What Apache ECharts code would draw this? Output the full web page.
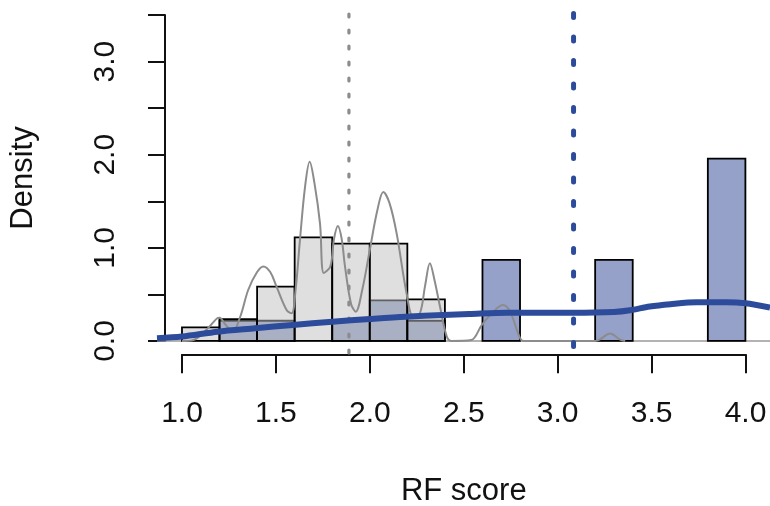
<!DOCTYPE html>
<html>
<head>
<meta charset="utf-8">
<script src="https://cdn.jsdelivr.net/npm/echarts@6/dist/echarts.min.js"></script>
<style>
html, body { margin: 0; padding: 0; background: #fff; }
#graph1 { width: 770px; height: 506px; }
</style>
</head>
<body>
<div id="graph1"></div>
<script>
// histogram bins (width 0.2) and densities
var grayLo = [1.0, 1.2, 1.4, 1.6, 1.8, 2.0, 2.2];
var grayHi = [1.2, 1.4, 1.6, 1.8, 2.0, 2.2, 2.4];
var grayDens = [0.145, 0.233, 0.583, 1.113, 1.045, 1.045, 0.447];

var blueLo = [1.2, 1.4, 1.8, 2.0, 2.2, 2.6, 3.2, 3.8];
var blueHi = [1.4, 1.6, 2.0, 2.2, 2.4, 2.8, 3.4, 4.0];
var blueDens = [0.217, 0.217, 0.217, 0.435, 0.217, 0.870, 0.870, 1.957];

// gray kernel density
var kdeX = [1.0, 1.06, 1.13, 1.185, 1.2, 1.23, 1.27, 1.31, 1.353, 1.40, 1.433, 1.47, 1.504, 1.557, 1.584, 1.605, 1.628, 1.655, 1.68, 1.705, 1.735, 1.755, 1.79, 1.81, 1.83, 1.85, 1.868, 1.90, 1.925, 1.96, 2.0, 2.04, 2.072, 2.105, 2.143, 2.196, 2.232, 2.267, 2.295, 2.32, 2.345, 2.374, 2.41, 2.436, 2.54, 2.596, 2.658, 2.71, 2.747, 2.80, 2.82, 3.2, 3.226, 3.28, 3.33, 3.36];
var kdeY = [0.0, 0.01, 0.12, 0.24, 0.25, 0.18, 0.10, 0.26, 0.55, 0.74, 0.80, 0.74, 0.58, 0.333, 0.297, 0.55, 1.08, 1.65, 1.925, 1.70, 1.26, 0.73, 0.80, 1.10, 1.235, 1.10, 0.80, 0.40, 0.315, 0.55, 0.977, 1.40, 1.60, 1.48, 1.156, 0.51, 0.26, 0.297, 0.60, 0.834, 0.65, 0.368, 0.046, 0.0, 0.01, 0.17, 0.315, 0.386, 0.315, 0.03, 0.0, 0.0, 0.018, 0.08, 0.018, 0.0];

// blue smooth curve
var trendX = [0.867, 1.0, 1.19, 1.39, 1.59, 1.80, 2.0, 2.19, 2.39, 2.53, 2.73, 3.08, 3.3, 3.386, 3.49, 3.6, 3.74, 3.9, 4.0, 4.131];
var trendY = [0.03, 0.047, 0.10, 0.136, 0.172, 0.207, 0.236, 0.261, 0.279, 0.29, 0.304, 0.304, 0.312, 0.33, 0.37, 0.395, 0.415, 0.415, 0.405, 0.36];

var grayMedian = 1.889;
var blueMedian = 3.085;

var font = 'Liberation Sans, Arial, sans-serif';
var myChart1 = echarts.init(document.getElementById('graph1'));

function zip(a, b, c) {
    var out = [];
    for (var i = 0; i < a.length; i++) {
        out.push(c ? [a[i], b[i], c[i]] : [a[i], b[i]]);
    }
    return out;
}

function histRender(fill) {
    return function (params, api) {
        var p0 = api.coord([api.value(0), 0]);
        var p1 = api.coord([api.value(1), api.value(2)]);
        return {
            type: 'rect',
            shape: { x: p0[0], y: p1[1], width: p1[0] - p0[0], height: p0[1] - p1[1] },
            style: { fill: fill, stroke: '#000', lineWidth: 1.8 }
        };
    };
}

var yMin = -0.14, yMax = 3.64;

var option = {
    backgroundColor: '#fff',
    animation: false,
    grid: [
        { left: 157, top: 2, width: 613, height: 352 },
        { left: 157, top: 15, width: 613, height: 326 },
        { left: 182, top: 354, width: 563.5, height: 1 }
    ],
    xAxis: [
        { gridIndex: 0, type: 'value', min: 0.867, max: 4.131, show: false },
        { gridIndex: 1, type: 'value', min: 0, max: 1, show: false },
        {
            gridIndex: 2, type: 'value', min: 1, max: 4, interval: 0.5,
            name: 'RF score', nameLocation: 'middle', nameGap: 122,
            nameTextStyle: { fontFamily: font, fontSize: 31, color: '#111' },
            axisLine: { lineStyle: { color: '#111', width: 2 } },
            axisTick: { length: 19, lineStyle: { color: '#111', width: 2 } },
            axisLabel: {
                fontFamily: font, fontSize: 30, color: '#111', margin: 44,
                formatter: function (v) { return v.toFixed(1); }
            },
            splitLine: { show: false }
        }
    ],
    yAxis: [
        { gridIndex: 0, type: 'value', min: yMin, max: yMax, show: false },
        {
            gridIndex: 1, type: 'value', min: 0, max: 3.5, interval: 0.5,
            name: 'Density', nameLocation: 'middle', nameGap: 126, nameRotate: 90,
            nameTextStyle: { fontFamily: font, fontSize: 31, color: '#111' },
            axisLine: { show: true, lineStyle: { color: '#111', width: 2 } },
            axisTick: { show: true, length: 17, lineStyle: { color: '#111', width: 2 } },
            axisLabel: {
                fontFamily: font, fontSize: 30, color: '#111', margin: 44, rotate: 90,
                formatter: function (v) { return (Math.abs(v % 1) < 1e-9) ? v.toFixed(1) : ''; }
            },
            splitLine: { show: false }
        },
        { gridIndex: 2, type: 'value', min: 0, max: 1, show: false }
    ],
    series: [
        {
            type: 'line', xAxisIndex: 0, yAxisIndex: 0, z: 1,
            data: [[0.867, 0], [4.131, 0]], symbol: 'none',
            lineStyle: { color: '#9a9a9a', width: 1.5 }
        },
        {
            type: 'custom', xAxisIndex: 0, yAxisIndex: 0, z: 2,
            renderItem: histRender('#95a1c9'),
            data: zip(blueLo, blueHi, blueDens)
        },
        {
            type: 'custom', xAxisIndex: 0, yAxisIndex: 0, z: 3,
            renderItem: histRender('rgba(192,192,192,0.5)'),
            data: zip(grayLo, grayHi, grayDens)
        },
        {
            type: 'line', xAxisIndex: 0, yAxisIndex: 0, z: 4,
            data: zip(kdeX, kdeY), symbol: 'none', smooth: 0.35,
            lineStyle: { color: '#8c8c8c', width: 2 }
        },
        {
            type: 'line', xAxisIndex: 0, yAxisIndex: 0, z: 5,
            data: [[grayMedian, yMax], [grayMedian, yMin]], symbol: 'none',
            lineStyle: { color: '#8c8c8c', width: 3.2, type: [3, 13], cap: 'round', dashOffset: 4 }
        },
        {
            type: 'line', xAxisIndex: 0, yAxisIndex: 0, z: 6,
            data: zip(trendX, trendY), symbol: 'none', smooth: 0.3,
            lineStyle: { color: '#2d4b9b', width: 6 }
        },
        {
            type: 'line', xAxisIndex: 0, yAxisIndex: 0, z: 7,
            data: [[blueMedian, yMax], [blueMedian, yMin]], symbol: 'none',
            lineStyle: { color: '#2d4b9b', width: 5, type: [4, 19.5], cap: 'round', dashOffset: 12 }
        }
    ]
};
myChart1.setOption(option);
</script>
</body>
</html>
